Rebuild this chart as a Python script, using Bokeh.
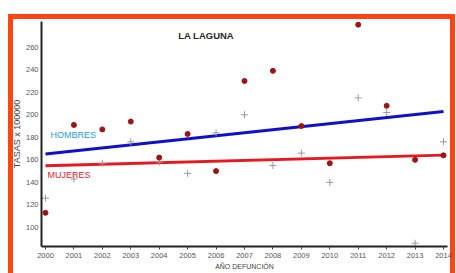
from bokeh.plotting import figure
from bokeh.models import ColumnDataSource, FixedTicker, Label, Range1d
from bokeh.embed import file_html
from bokeh.resources import INLINE

# ---- data ----
years = [2000, 2001, 2002, 2003, 2004, 2005, 2006, 2007, 2008, 2009, 2010, 2011, 2012, 2013, 2014]
hombres = [113, 191, 187, 194, 162, 183, 150, 230, 239, 190, 157, 280, 208, 160, 164]
mujeres = [126, 143, 157, 176, 158, 148, 184, 200, 155, 166, 140, 215, 202, 86, 176]
trend_years = [2000, 2014]
hombres_trend = [165.3, 202.9]
mujeres_trend = [154.7, 164.2]
y_ticks = [100, 120, 140, 160, 180, 200, 220, 240, 260]
x_ticks = years

title_text = "LA LAGUNA"
label_h = "HOMBRES"
label_m = "MUJERES"
x_title = "AÑO DEFUNCIÓN"
y_title = "TASAS x 100000"

FONT = "Liberation Sans"
ORANGE = "#ff4412"

p = figure(width=456, height=273, output_backend="svg", toolbar_location=None,
           x_range=Range1d(1999.86, 2014.14), y_range=Range1d(83.1, 282.8),
           min_border_left=41, min_border_right=9, min_border_top=21, min_border_bottom=27)
p.outline_line_color = None
p.xgrid.grid_line_color = None
p.ygrid.grid_line_color = None
p.background_fill_color = "white"
p.border_fill_color = None

# orange frame around the chart (drawn as CSS background of the plot element)
grad = "linear-gradient(%s,%s)" % (ORANGE, ORANGE)
p.styles = {
    "background-color": "white",
    "background-image": ", ".join([grad, grad, grad]),
    "background-size": "5px 400px, 447px 5px, 5px 400px",
    "background-position": "8px 14px, 8px 14px, 450px 14px",
    "background-repeat": "no-repeat",
}

src = ColumnDataSource(dict(year=years, h=hombres, m=mujeres))
tsrc = ColumnDataSource(dict(year=trend_years, h=hombres_trend, m=mujeres_trend))

p.line("year", "h", source=tsrc, line_color="#1010c8", line_width=3)
p.line("year", "m", source=tsrc, line_color="#e81820", line_width=3)
p.scatter("year", "m", source=src, marker="cross", size=7, line_color="#9a9a9a", line_width=1)
p.scatter("year", "h", source=src, marker="circle", size=5, fill_color="#9c1414", line_color="#9c1414")

# axes
for ax in (p.xaxis[0], p.yaxis[0]):
    ax.axis_line_color = "#222222"
    ax.axis_line_width = 2
    ax.major_label_text_font = FONT
    ax.major_label_text_font_size = "7.5px"
    ax.major_label_text_color = "#555555"
    ax.minor_tick_line_color = None
    ax.axis_label_text_font = FONT
    ax.axis_label_text_font_style = "normal"
    ax.axis_label_text_color = "#444444"

p.xaxis[0].ticker = FixedTicker(ticks=x_ticks)
p.xaxis[0].major_tick_line_color = "#444444"
p.xaxis[0].major_tick_out = 3
p.xaxis[0].major_tick_in = 0
p.xaxis[0].major_label_standoff = 3
p.xaxis[0].axis_label = x_title
p.xaxis[0].axis_label_text_font_size = "7px"
p.xaxis[0].axis_label_standoff = 2

p.yaxis[0].ticker = FixedTicker(ticks=y_ticks)
p.yaxis[0].major_tick_line_color = None
p.yaxis[0].major_tick_out = 0
p.yaxis[0].major_tick_in = 0
p.yaxis[0].major_label_standoff = 3
p.yaxis[0].axis_label = y_title
p.yaxis[0].axis_label_text_font_size = "9px"
p.yaxis[0].axis_label_standoff = 1

# texts inside plot
p.add_layout(Label(x=2005.65, y=270.4, text=title_text, text_align="center", text_baseline="middle",
                   text_font=FONT, text_font_style="bold", text_font_size="9.5px", text_color="#2a2a2a"))
p.add_layout(Label(x=2000.18, y=182.4, text=label_h, text_align="left", text_baseline="middle",
                   text_font=FONT, text_font_size="9px", text_color="#22a0e8"))
p.add_layout(Label(x=2000.07, y=146.2, text=label_m, text_align="left", text_baseline="middle",
                   text_font=FONT, text_font_size="9px", text_color="#e8202a"))

open("out.html", "w").write(file_html(p, INLINE))
